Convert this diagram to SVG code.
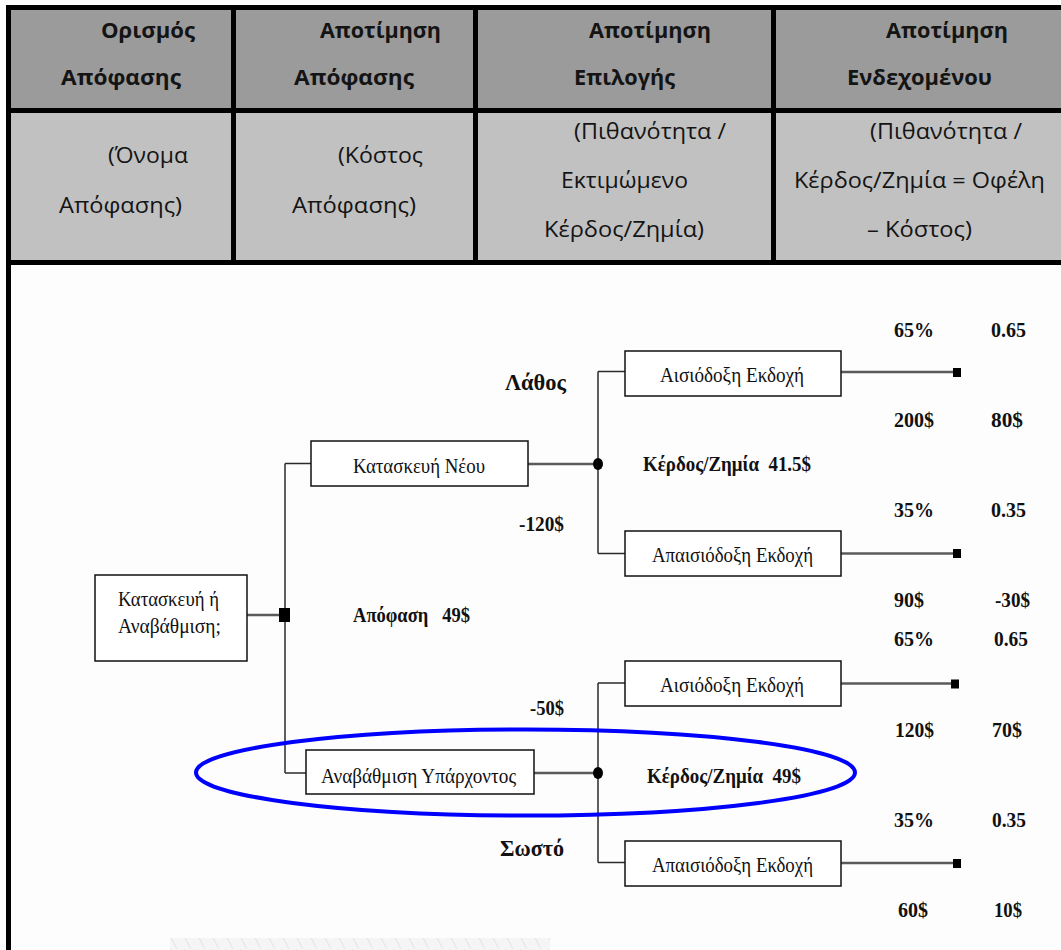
<svg xmlns="http://www.w3.org/2000/svg" width="1061" height="950" viewBox="0 0 1061 950">
  <defs>
    <style>
      .hd { font-family: "Open Sans", "Noto Sans", sans-serif; font-size: 21px; font-weight: 700; fill: #141414; }
      .sub { font-family: "Open Sans", "Noto Sans", sans-serif; font-size: 21px; font-weight: 400; fill: #141414; }
      .box { fill: #ffffff; stroke: #111111; stroke-width: 1.5; }
      .bt { font-family: "Liberation Serif", "Times New Roman", serif; font-size: 22px; fill: #111111; }
      .lb { font-family: "Liberation Serif", "Times New Roman", serif; font-size: 21px; font-weight: 700; fill: #111111; }
      .big { font-family: "Liberation Serif", "Times New Roman", serif; font-size: 23px; font-weight: 700; fill: #111111; }
      .wire { stroke: #2a2a2a; stroke-width: 1.5; fill: none; }
      .link { stroke: #5a5a5a; stroke-width: 2.5; fill: none; }
      .rule { fill: #000000; }
    </style>
    <pattern id="hatch" width="14" height="13" patternUnits="userSpaceOnUse">
      <path d="M2 0 L9 13" stroke="#d4d4d4" stroke-width="1.2"/>
    </pattern>
  </defs>

  <!-- page -->
  <rect x="0" y="0" width="1061" height="950" fill="#fdfdfd"/>
  <rect x="170" y="938" width="380" height="12" fill="#f5f5f5"/>
  <rect x="170" y="938" width="380" height="12" fill="url(#hatch)" opacity="0.45"/>

  <!-- table cells -->
  <g id="table">
    <rect x="11" y="10" width="1050" height="98" fill="#9b9b9b"/>
    <rect x="11" y="113" width="1050" height="147" fill="#c1c1c1"/>
    <rect class="rule" x="6" y="5" width="1055" height="5"/>
    <rect class="rule" x="6" y="108" width="1055" height="5"/>
    <rect class="rule" x="6" y="260" width="1055" height="5"/>
    <rect class="rule" x="6" y="5" width="5" height="945"/>
    <rect class="rule" x="231" y="5" width="5" height="260"/>
    <rect class="rule" x="473" y="5" width="5" height="260"/>
    <rect class="rule" x="771" y="5" width="5" height="260"/>

    <text class="hd" x="101" y="38" textLength="94" lengthAdjust="spacingAndGlyphs">Ορισμός</text>
    <text class="hd" x="61" y="85" textLength="120" lengthAdjust="spacingAndGlyphs">Απόφασης</text>
    <text class="hd" x="320" y="38" textLength="121" lengthAdjust="spacingAndGlyphs">Αποτίμηση</text>
    <text class="hd" x="294" y="85" textLength="120" lengthAdjust="spacingAndGlyphs">Απόφασης</text>
    <text class="hd" x="589" y="38" textLength="122" lengthAdjust="spacingAndGlyphs">Αποτίμηση</text>
    <text class="hd" x="574" y="85" textLength="101" lengthAdjust="spacingAndGlyphs">Επιλογής</text>
    <text class="hd" x="886" y="38" textLength="122" lengthAdjust="spacingAndGlyphs">Αποτίμηση</text>
    <text class="hd" x="847" y="85" textLength="145" lengthAdjust="spacingAndGlyphs">Ενδεχομένου</text>

    <text class="sub" x="108" y="163" textLength="80" lengthAdjust="spacingAndGlyphs">(Όνομα</text>
    <text class="sub" x="59" y="213" textLength="123" lengthAdjust="spacingAndGlyphs">Απόφασης)</text>
    <text class="sub" x="338" y="163" textLength="85" lengthAdjust="spacingAndGlyphs">(Κόστος</text>
    <text class="sub" x="292" y="213" textLength="124" lengthAdjust="spacingAndGlyphs">Απόφασης)</text>
    <text class="sub" x="574" y="139" textLength="152" lengthAdjust="spacingAndGlyphs">(Πιθανότητα /</text>
    <text class="sub" x="561" y="188" textLength="127" lengthAdjust="spacingAndGlyphs">Εκτιμώμενο</text>
    <text class="sub" x="544" y="237" textLength="160" lengthAdjust="spacingAndGlyphs">Κέρδος/Ζημία)</text>
    <text class="sub" x="870" y="139" textLength="152" lengthAdjust="spacingAndGlyphs">(Πιθανότητα /</text>
    <text class="sub" x="794" y="188" textLength="251" lengthAdjust="spacingAndGlyphs">Κέρδος/Ζημία = Οφέλη</text>
    <text class="sub" x="867" y="237" textLength="105" lengthAdjust="spacingAndGlyphs">– Κόστος)</text>
  </g>

  <!-- tree connectors -->
  <g id="connectors">
    <line class="link" x1="247" y1="615" x2="280" y2="615"/>
    <line class="wire" x1="285" y1="463.5" x2="285" y2="773"/>
    <line class="wire" x1="285" y1="463.5" x2="311" y2="463.5"/>
    <line class="wire" x1="285" y1="773" x2="306" y2="773"/>
    <line class="link" x1="528" y1="464" x2="598" y2="464"/>
    <line class="link" x1="534" y1="773" x2="598" y2="773"/>
    <line class="wire" x1="598" y1="371.5" x2="598" y2="553.5"/>
    <line class="wire" x1="598" y1="683" x2="598" y2="862.5"/>
    <line class="wire" x1="598" y1="371.5" x2="625" y2="371.5"/>
    <line class="wire" x1="598" y1="553.5" x2="625" y2="553.5"/>
    <line class="wire" x1="598" y1="683" x2="625" y2="683"/>
    <line class="wire" x1="598" y1="862.5" x2="625" y2="862.5"/>
    <line class="link" x1="841" y1="372" x2="954" y2="372"/>
    <line class="link" x1="841" y1="553.5" x2="954" y2="553.5"/>
    <line class="link" x1="841" y1="683.5" x2="954" y2="683.5"/>
    <line class="link" x1="841" y1="863" x2="954" y2="863"/>
  </g>

  <!-- decision root -->
  <g id="root">
    <rect class="box" x="95" y="575" width="152" height="86"/>
    <text class="bt" x="118" y="606" textLength="101" lengthAdjust="spacingAndGlyphs">Κατασκευή ή</text>
    <text class="bt" x="118" y="633" textLength="103" lengthAdjust="spacingAndGlyphs">Αναβάθμιση;</text>
  </g>
  <g id="decision">
    <rect x="279" y="608" width="11" height="14" fill="#000"/>
    <text class="lb" x="353" y="622" xml:space="preserve" textLength="117" lengthAdjust="spacingAndGlyphs">Απόφαση   49$</text>
  </g>

  <!-- option: build new -->
  <g id="build-new">
    <rect class="box" x="311" y="441" width="217" height="45"/>
    <text class="bt" x="353" y="472.5" textLength="132" lengthAdjust="spacingAndGlyphs">Κατασκευή Νέου</text>
    <text class="big" x="505" y="390" textLength="61" lengthAdjust="spacingAndGlyphs">Λάθος</text>
    <text class="lb" x="519" y="530.5" textLength="45" lengthAdjust="spacingAndGlyphs">-120$</text>
  </g>
  <g id="chance-new">
    <ellipse cx="598" cy="464" rx="5" ry="6" fill="#000"/>
    <text class="lb" x="643" y="471" xml:space="preserve" textLength="168" lengthAdjust="spacingAndGlyphs">Κέρδος/Ζημία  41.5$</text>
  </g>
  <g id="new-optimistic">
    <rect class="box" x="625" y="351" width="216" height="45"/>
    <text class="bt" x="660" y="381.5" textLength="144" lengthAdjust="spacingAndGlyphs">Αισιόδοξη Εκδοχή</text>
    <rect x="953" y="368" width="8" height="9" fill="#000"/>
    <text class="lb" x="894" y="337" textLength="40" lengthAdjust="spacingAndGlyphs">65%</text>
    <text class="lb" x="991" y="337" textLength="35" lengthAdjust="spacingAndGlyphs">0.65</text>
    <text class="lb" x="894" y="426.5" textLength="40" lengthAdjust="spacingAndGlyphs">200$</text>
    <text class="lb" x="991" y="426.5" textLength="32" lengthAdjust="spacingAndGlyphs">80$</text>
  </g>
  <g id="new-pessimistic">
    <rect class="box" x="625" y="531" width="216" height="45"/>
    <text class="bt" x="652" y="561.5" textLength="161" lengthAdjust="spacingAndGlyphs">Απαισιόδοξη Εκδοχή</text>
    <rect x="953" y="549" width="8" height="9" fill="#000"/>
    <text class="lb" x="894" y="516.5" textLength="40" lengthAdjust="spacingAndGlyphs">35%</text>
    <text class="lb" x="991" y="516.5" textLength="35" lengthAdjust="spacingAndGlyphs">0.35</text>
    <text class="lb" x="894" y="607" textLength="30" lengthAdjust="spacingAndGlyphs">90$</text>
    <text class="lb" x="995" y="607" textLength="35" lengthAdjust="spacingAndGlyphs">-30$</text>
  </g>

  <!-- option: upgrade existing -->
  <g id="upgrade">
    <rect class="box" x="306" y="750" width="228" height="44"/>
    <text class="bt" x="321" y="782.5" textLength="195" lengthAdjust="spacingAndGlyphs">Αναβάθμιση Υπάρχοντος</text>
    <text class="lb" x="530" y="715" textLength="34" lengthAdjust="spacingAndGlyphs">-50$</text>
    <text class="big" x="500" y="855.5" textLength="64" lengthAdjust="spacingAndGlyphs">Σωστό</text>
  </g>
  <g id="chance-upgrade">
    <ellipse cx="598" cy="773" rx="5" ry="6" fill="#000"/>
    <text class="lb" x="647" y="783" xml:space="preserve" textLength="154" lengthAdjust="spacingAndGlyphs">Κέρδος/Ζημία  49$</text>
  </g>
  <g id="upgrade-optimistic">
    <rect class="box" x="625" y="661" width="216" height="45"/>
    <text class="bt" x="660" y="691.5" textLength="144" lengthAdjust="spacingAndGlyphs">Αισιόδοξη Εκδοχή</text>
    <rect x="951" y="679.5" width="8" height="9" fill="#000"/>
    <text class="lb" x="894" y="646" textLength="40" lengthAdjust="spacingAndGlyphs">65%</text>
    <text class="lb" x="994" y="646" textLength="34" lengthAdjust="spacingAndGlyphs">0.65</text>
    <text class="lb" x="895" y="737" textLength="39" lengthAdjust="spacingAndGlyphs">120$</text>
    <text class="lb" x="992" y="737" textLength="30" lengthAdjust="spacingAndGlyphs">70$</text>
  </g>
  <g id="upgrade-pessimistic">
    <rect class="box" x="625" y="841" width="216" height="45"/>
    <text class="bt" x="652" y="872" textLength="161" lengthAdjust="spacingAndGlyphs">Απαισιόδοξη Εκδοχή</text>
    <rect x="953" y="859" width="8" height="9" fill="#000"/>
    <text class="lb" x="894" y="826.5" textLength="40" lengthAdjust="spacingAndGlyphs">35%</text>
    <text class="lb" x="992" y="826.5" textLength="34" lengthAdjust="spacingAndGlyphs">0.35</text>
    <text class="lb" x="898" y="917" textLength="30" lengthAdjust="spacingAndGlyphs">60$</text>
    <text class="lb" x="994" y="917" textLength="28" lengthAdjust="spacingAndGlyphs">10$</text>
  </g>

  <!-- highlight around the chosen option -->
  <ellipse id="highlight" cx="525.5" cy="772.5" rx="329.5" ry="43" fill="none" stroke="#0000ff" stroke-width="4"/>
</svg>
